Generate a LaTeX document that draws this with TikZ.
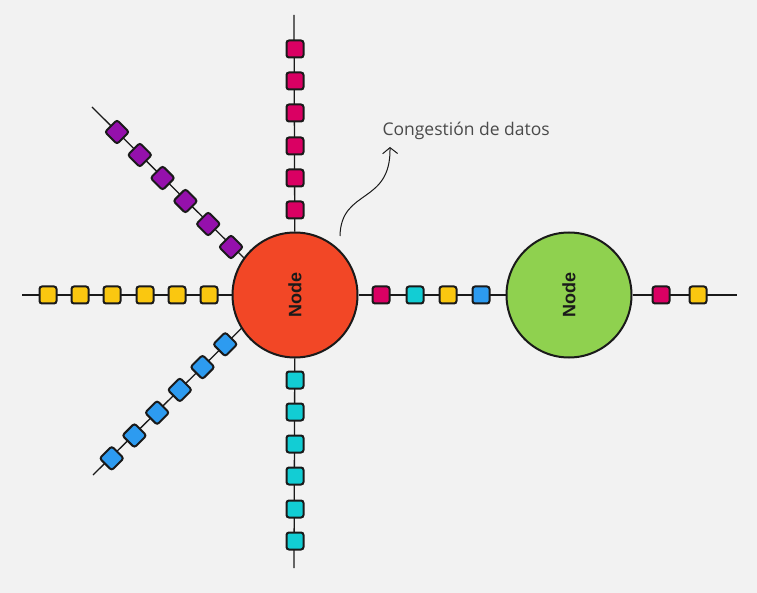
\documentclass[tikz,border=0pt]{standalone}
\usepackage{fontspec}
\setmainfont{Open Sans}
\newfontfamily\hubfont{Liberation Sans}
\usetikzlibrary{arrows.meta}
\definecolor{bg}{HTML}{F2F2F2}
\definecolor{ink}{HTML}{1A1A1A}
\definecolor{txt}{HTML}{4A4A4A}
\definecolor{hot}{HTML}{F24726}
\definecolor{calm}{HTML}{8FD14F}
\definecolor{pk}{HTML}{DA0063}
\definecolor{cy}{HTML}{12CDD4}
\definecolor{yl}{HTML}{FAC710}
\definecolor{bl}{HTML}{2D9BF0}
\definecolor{pu}{HTML}{9510AC}
\tikzset{
  hub/.style ={circle, draw=ink, line width=2pt, minimum size=125pt,
               inner sep=0pt, text=ink,
               font=\hubfont\bfseries\fontsize{18}{18}\selectfont},
  % packet on a link
  pkt/.style ={draw=ink, line width=2pt, rounded corners=2.5pt,
               minimum size=17pt, inner sep=0pt},
  link/.style={draw=ink, line width=1.3pt},
  note/.style={text=txt, font=\fontsize{17.5}{20}\selectfont},
}
\begin{document}
\begin{tikzpicture}[x=1pt,y=-1pt]
    \fill[bg] (0,0) rectangle (757,593);
    \useasboundingbox (0,0) rectangle (757,593);
    % nodes
    \node[hub, fill=hot]  (A) at (295,295) {\rotatebox{90}{Node}};
    \node[hub, fill=calm] (B) at (569,295) {\rotatebox{90}{Node}};
    % free ends
    \coordinate (top) at (294,15);
    \coordinate (bot) at (294,568);
    \coordinate (lft) at (22,295);
    \coordinate (rgt) at (737,295);
    \coordinate (ul)  at (92,107);
    \coordinate (dl)  at (93,475);
    % links
    \draw[link] (top) -- (A);
    \draw[link] (bot) -- (A);
    \draw[link] (lft) -- (A);
    \draw[link] (ul) -- (A.144);
    \draw[link] (dl) -- (A.212);
    \draw[link] (A) -- (B);
    \draw[link] (B) -- (rgt);
    % queues
    \foreach \i/\y in {1/49,2/81,3/113,4/146,5/178,6/210}
      \node[pkt, fill=pk] (up\i) at (295,\y) {};
    \foreach \i/\y in {1/380,2/412,3/444,4/476,5/509,6/541}
      \node[pkt, fill=cy] (dn\i) at (295,\y) {};
    \foreach \i/\x in {1/48,2/80,3/112,4/145,5/177,6/209}
      \node[pkt, fill=yl] (lf\i) at (\x,295) {};
    \foreach \i in {0,...,5}
      \node[pkt, fill=pu, rotate=45] (nw\i) at ({117+22.8*\i},{132+23*\i}) {};
    \foreach \i in {0,...,5}
      \node[pkt, fill=bl, rotate=45] (sw\i) at ({111.7+22.7*\i},{458.3-22.8*\i}) {};
    \foreach \i/\x/\c in {1/381/pk,2/415/cy,3/448/yl,4/481/bl}
      \node[pkt, fill=\c] (ab\i) at (\x,295) {};
    \node[pkt, fill=pk] (out1) at (661,295) {};
    \node[pkt, fill=yl] (out2) at (698,295) {};
    % congestion note
    \node[note, anchor=base west] (cg) at (379,136) {Congestión de datos};
    \coordinate (cs) at (340,236);
    \coordinate (ce) at (390,147);
    \draw[ink, line width=1pt, -{Straight Barb[length=6pt,width=15pt]}]
      (cs) .. controls (341,188) and (391,205) .. (ce);
\end{tikzpicture}
\end{document}
